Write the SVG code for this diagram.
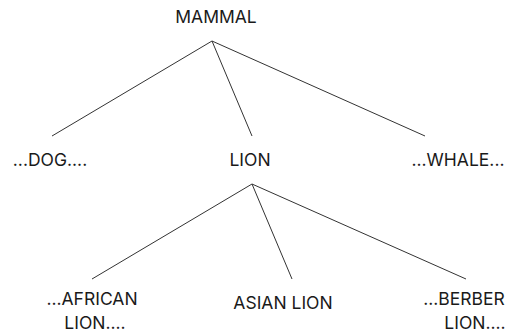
<svg xmlns="http://www.w3.org/2000/svg" width="508" height="332" viewBox="0 0 508 332">
<style>
text{font-family:Inter,"Liberation Sans",sans-serif;font-size:17.5px;fill:#1a1a1a;text-anchor:middle}
line{stroke:#333;stroke-width:1}
</style>
<rect width="508" height="332" fill="#fff"/>
<g id="connectors">
<line x1="212" y1="41" x2="52" y2="136"/>
<line x1="212" y1="41" x2="252" y2="136"/>
<line x1="212" y1="41" x2="425" y2="136"/>
<line x1="252" y1="184" x2="92" y2="279"/>
<line x1="252" y1="184" x2="292" y2="279"/>
<line x1="252" y1="184" x2="466" y2="279"/>
</g>
<g id="mammal"><text x="216" y="23">MAMMAL</text></g>
<g id="dog"><text x="50" y="166">...DOG....</text></g>
<g id="lion"><text x="250" y="166">LION</text></g>
<g id="whale"><text x="458" y="166">...WHALE...</text></g>
<g id="african"><text x="92" y="305">...AFRICAN</text><text x="95" y="329">LION....</text></g>
<g id="asian"><text x="283" y="309">ASIAN LION</text></g>
<g id="berber"><text x="464" y="305">...BERBER</text><text x="475" y="329">LION....</text></g>
</svg>
